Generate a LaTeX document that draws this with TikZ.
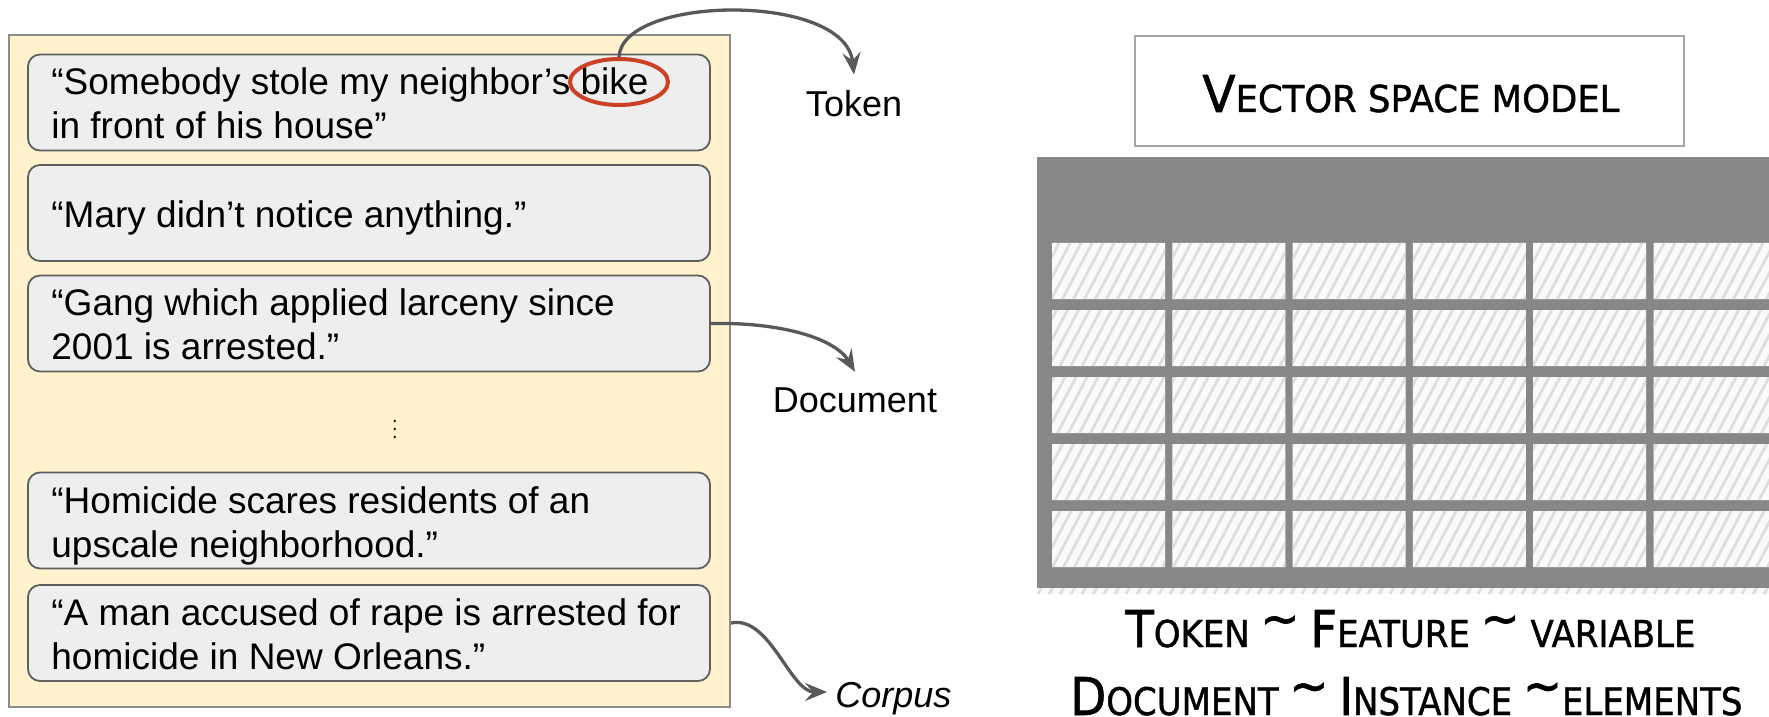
\documentclass[tikz,border=0pt]{standalone}
\usepackage{fontspec}
\setmainfont{Liberation Sans}
\newfontfamily\hand[FakeBold=1.2]{DejaVu Sans}
\usetikzlibrary{arrows.meta,shapes.geometric}
\definecolor{yel}{HTML}{FFF2CC}
\definecolor{ybord}{HTML}{8C8C8C}
\definecolor{boxfill}{HTML}{EEEEEE}
\definecolor{boxline}{HTML}{5F5F5F}
\definecolor{arrowgray}{HTML}{595959}
\definecolor{redring}{HTML}{CC4125}
\definecolor{tgray}{HTML}{878787}
\definecolor{cellbg}{HTML}{FAFAFA}
\definecolor{stripec}{HTML}{DDDDDD}
\definecolor{vsmline}{HTML}{A6A6A6}
\newcommand\bigsc{\fontsize{20}{20}\selectfont}
\newcommand\smsc{\fontsize{14.6}{14.6}\selectfont}
\newcommand\tld{\smash{\raisebox{.3em}{\bigsc\textasciitilde}}}
\begin{document}
\begin{tikzpicture}[x=0.5pt,y=-0.5pt,
  sbox/.style={draw=boxline, fill=boxfill, rounded corners=6pt, line width=0.9pt,
    minimum width=341pt, minimum height=48pt, inner sep=0pt},
  stxt/.style={anchor=north west, align=left, inner sep=0pt,
    font=\fontsize{18.5}{22}\selectfont},
  lbl/.style={inner sep=0pt, font=\fontsize{18}{22}\selectfont},
  conn/.style={draw=arrowgray, line width=1.65pt,
    -{Stealth[length=11pt,width=9pt,inset=4pt]}},
  stripe/.style={draw=stripec, line width=1.35pt},
  hand/.style={anchor=base west, inner sep=0pt}]
\useasboundingbox (0,0) rectangle (1769,717);

% corpus container
\node[draw=ybord, fill=yel, line width=1pt, minimum width=360.5pt,
  minimum height=336pt, inner sep=0pt] (corpus) at (369.5,371) {};

% sentence boxes
\node[sbox] (s1) at (369,102.5) {};
\node[sbox] (s2) at (369,213) {};
\node[sbox] (s3) at (369,323.5) {};
\node[sbox] (s4) at (369,520.5) {};
\node[sbox] (s5) at (369,633) {};

\node[stxt] (t1) at (51,67.5) {“Somebody stole my neighbor’s bike\\in front of his house”};
\node[stxt] (t2) at (51,200) {“Mary didn’t notice anything.”};
\node[stxt] (t3) at (51,288.5) {“Gang which applied larceny since\\2001 is arrested.”};
\node[stxt] (t4) at (51,486) {“Homicide scares residents of an\\upscale neighborhood.”};
\node[stxt] (t5) at (51,598) {“A man accused of rape is arrested for\\homicide in New Orleans.”};

\node[inner sep=0pt, anchor=south] (dots) at (395,439) {$\vdots$};

% token ring
\node[ellipse, draw=redring, line width=2pt, minimum width=49pt,
  minimum height=23pt, inner sep=0pt] (tok) at (619,82) {};

% labels
\node[lbl, anchor=base] (ltok) at (854,117) {Token};
\node[lbl, anchor=base] (ldoc) at (855,412) {Document};
\node[lbl, anchor=base west, font=\fontsize{18}{22}\selectfont\itshape] (lcorp) at (835,707) {Corpus};

% connectors
\draw[conn] (tok.north) .. controls (622,-5) and (845,-8) .. ([yshift=8pt]ltok.north);
\draw[conn] (s3.east) .. controls (780,322) and (835,338) .. ([yshift=7.5pt]ldoc.north);
\coordinate (cstart) at ([yshift=42.5pt]corpus.south east);
\coordinate (cend) at (827,692);
\draw[conn] (cstart) .. controls (770,615) and (790,692) .. (cend);

% vector space model title
\node[draw=vsmline, line width=1pt, minimum width=274.5pt, minimum height=55pt,
  inner sep=0pt] (vsm) at (1409.5,91) {};
\node[hand] (vsmt) at (1202,112) {\resizebox{208.5pt}{18.5pt}{\hand\bigsc V\smsc ECTOR SPACE MODEL}};

% table
\fill[tgray] (1037,157) rectangle (1769,588);
\begin{scope}
  \clip \foreach \i/\w in {0/113,1/113,2/113,3/113,4/113,5/116}{
      \foreach \j in {0,...,4}{ ({1052+120.3*\i},{243+67*\j}) rectangle ++(\w,56) } }
    (1037,588) rectangle (1769,594);
  \fill[cellbg] (1037,230) rectangle (1769,600);
  \foreach \k in {0,...,90}{ \draw[stripe] ({837+11*\k},600) -- ++(196,-370); }
\end{scope}

% equivalence lines
\node[hand] (eq1) at (1125,647) {\resizebox{285pt}{18.5pt}{\hand\bigsc T\smsc OKEN \tld\ \bigsc F\smsc EATURE \tld\ VARIABLE}};
\node[hand] (eq2) at (1070,715) {\resizebox{336pt}{19pt}{\hand\bigsc D\smsc OCUMENT \tld\ \bigsc I\smsc NSTANCE \tld ELEMENTS}};
\end{tikzpicture}
\end{document}
